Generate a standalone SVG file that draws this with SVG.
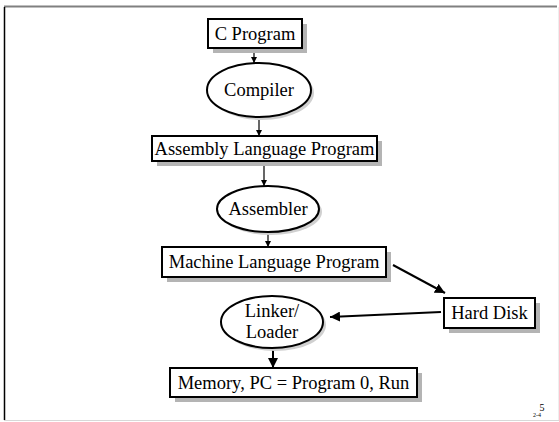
<svg xmlns="http://www.w3.org/2000/svg" width="559" height="422" viewBox="0 0 559 422">
<defs>
<style>
.box{fill:#fff;stroke:#000;stroke-width:2}
.sh{fill:#b4b4b4}
.t{font-family:"Liberation Serif","Times New Roman",serif;font-size:18.5px;fill:#000;text-anchor:middle}
.c1{stroke:#000;stroke-width:1.2;fill:none}
.c2{stroke:#000;stroke-width:2;fill:none}
</style>
<marker id="a1" viewBox="0 0 10 10" refX="10" refY="5" markerWidth="6" markerHeight="6" markerUnits="userSpaceOnUse" orient="auto"><path d="M0,0 L10,5 L0,10 z" fill="#000"/></marker>
<marker id="a2" viewBox="0 0 10 10" refX="10" refY="5" markerWidth="10" markerHeight="10" markerUnits="userSpaceOnUse" orient="auto"><path d="M0,0 L10,5 L0,10 z" fill="#000"/></marker>
</defs>
<rect width="559" height="422" fill="#fff"/>
<line x1="4" y1="6.5" x2="557" y2="6.5" stroke="#808080" stroke-width="2"/>
<line x1="4.5" y1="7" x2="4.5" y2="420" stroke="#000" stroke-width="1.5"/>
<line x1="4" y1="420.5" x2="559" y2="420.5" stroke="#d8d8d8" stroke-width="1"/>
<line x1="558.5" y1="7" x2="558.5" y2="420" stroke="#eeeeee" stroke-width="1"/>

<g id="connectors">
<line class="c1" x1="254" y1="48" x2="254" y2="63" marker-end="url(#a1)"/>
<line class="c1" x1="259" y1="117" x2="259" y2="136" marker-end="url(#a1)"/>
<line class="c1" x1="264" y1="161" x2="264" y2="186" marker-end="url(#a1)"/>
<line class="c1" x1="268" y1="232" x2="268" y2="247" marker-end="url(#a1)"/>
<line class="c2" x1="273" y1="348" x2="273" y2="368" marker-end="url(#a2)"/>
<line class="c2" x1="393" y1="265" x2="445" y2="293" marker-end="url(#a2)"/>
<line class="c2" x1="441" y1="312" x2="330" y2="317" marker-end="url(#a2)"/>
</g>

<g id="c-program">
<rect class="sh" x="213" y="24" width="94" height="29"/>
<rect class="box" x="208" y="19" width="94" height="29"/>
<text class="t" x="255" y="40">C Program</text>
</g>
<g id="compiler">
<ellipse cx="262" cy="93" rx="52" ry="27" fill="#d0d0d0"/>
<ellipse class="box" cx="259" cy="90" rx="52" ry="27"/>
<text class="t" x="259" y="96">Compiler</text>
</g>
<g id="assembly-language-program">
<rect class="sh" x="157" y="141" width="225" height="25"/>
<rect class="box" x="152" y="136" width="225" height="25"/>
<text class="t" x="264.5" y="155">Assembly Language Program</text>
</g>
<g id="assembler">
<ellipse cx="271" cy="212" rx="51" ry="23" fill="#d0d0d0"/>
<ellipse class="box" cx="268" cy="209" rx="51" ry="23"/>
<text class="t" x="268" y="215">Assembler</text>
</g>
<g id="machine-language-program">
<rect class="sh" x="167" y="252" width="224" height="30"/>
<rect class="box" x="162" y="247" width="224" height="30"/>
<text class="t" x="274" y="268">Machine Language Program</text>
</g>
<g id="hard-disk">
<rect class="sh" x="449" y="303" width="91" height="30"/>
<rect class="box" x="444" y="298" width="91" height="30"/>
<text class="t" x="489.5" y="319">Hard Disk</text>
</g>
<g id="linker-loader">
<ellipse cx="275" cy="325" rx="51" ry="26" fill="#d0d0d0"/>
<ellipse class="box" cx="272" cy="322" rx="51" ry="26"/>
<text class="t" x="272" y="317">Linker/</text>
<text class="t" x="272" y="338">Loader</text>
</g>
<g id="memory">
<rect class="sh" x="175" y="373" width="247" height="29"/>
<rect class="box" x="170" y="368" width="247" height="29"/>
<text class="t" x="293.5" y="389">Memory, PC = Program 0, Run</text>
</g>
<g id="page-number">
<text x="542" y="411" font-family="Liberation Serif, serif" font-size="10" text-anchor="middle">5</text>
<text x="537" y="417" font-family="Liberation Serif, serif" font-size="6" text-anchor="middle">2-4</text>
</g>
</svg>
